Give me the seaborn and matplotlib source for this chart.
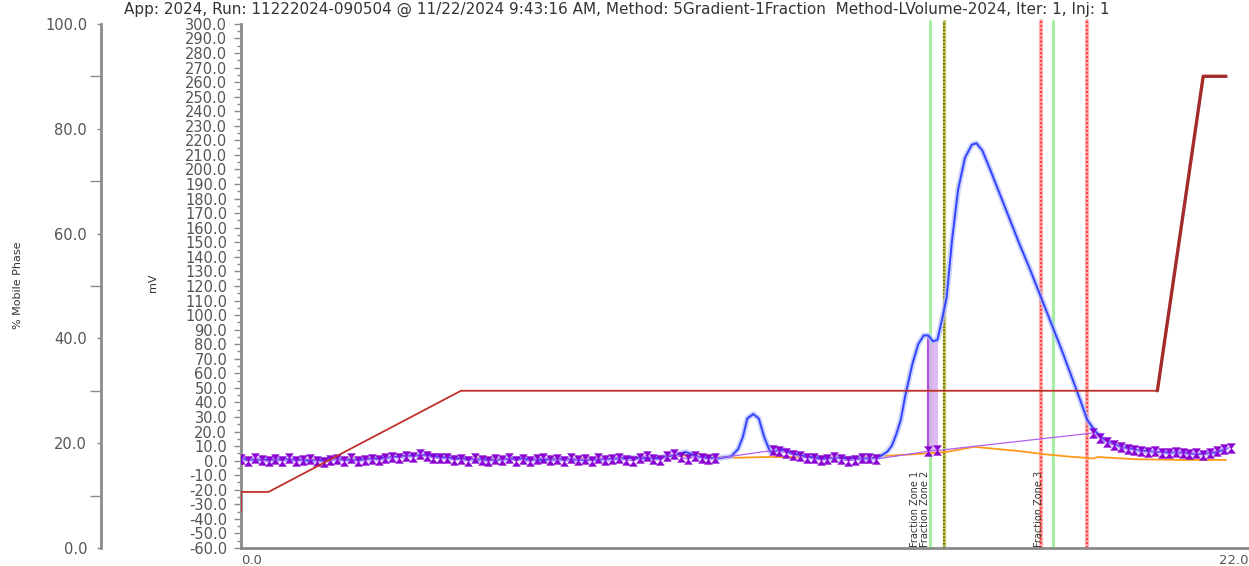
import numpy as np
import matplotlib
matplotlib.use("Agg")
import matplotlib.pyplot as plt
import seaborn as sns
from matplotlib.ticker import MultipleLocator, FormatStrFormatter

# Header line
TITLE = ("App: 2024, Run: 11222024-090504 @ 11/22/2024 9:43:16 AM, Method: 5Gradient-1Fraction  "
         "Method-LVolume-2024, Iter: 1, Inj: 1")

# Detector trace (mV) vs time (min)
blue_t = [0.0, 0.5, 1.0, 1.5, 2.0, 2.5, 3.0, 3.5, 4.0, 4.5, 5.0, 5.5, 6.0, 6.5, 7.0, 7.5,
          8.0, 8.5, 9.0, 9.5, 9.7, 10.0, 10.4, 10.7, 10.85, 10.95, 11.05, 11.18, 11.3, 11.42,
          11.55, 11.7, 11.85, 12.0, 12.3, 12.7, 13.0, 13.4, 13.75, 13.95, 14.1, 14.2, 14.3,
          14.4, 14.5, 14.65, 14.78, 14.9, 15.0, 15.1, 15.2, 15.3, 15.4, 15.52, 15.65, 15.8,
          15.95, 16.05, 16.18, 16.35, 16.55, 16.8, 17.0, 17.2, 17.45, 17.65, 17.9, 18.1, 18.3,
          18.47, 18.65, 18.85, 19.2, 19.6, 20.0, 20.5, 20.9, 21.25, 21.5]
blue_mv = [1, 0.5, 1, 0, 1, 0.5, 1.5, 3, 4, 2, 1, 0.5, 1.5, 0.5, 1, 0.5,
           1, 2, 1.5, 4, 6, 2.5, 1.5, 3, 8, 16, 29, 32, 29, 16,
           6, 7, 7.5, 5.5, 3, 1.5, 2, 1.5, 1.5, 3, 6, 10, 18,
           28, 45, 66, 80, 86, 86, 82, 83, 97, 112, 152, 186, 208,
           217, 218, 213, 200, 184, 164, 148, 133, 113, 97, 77, 60, 43,
           28, 20, 14, 9.5, 7, 6, 5.5, 4.5, 5.5, 8]

# Second detector channel (mV)
orange_t = [0, 1, 2, 3, 3.5, 4, 4.5, 5, 6, 7, 8, 9, 9.5, 10, 10.3, 10.8, 11.5, 12.5, 13.5,
            14.2, 15.0, 15.4, 16.0, 16.5, 17.0, 17.5, 18.0, 18.6, 18.7, 19.5, 20.5, 21.5]
orange_mv = [1.5, 1, 1.5, 2, 3, 3.5, 2.5, 2, 1.5, 1.5, 2, 2.5, 3, 4.5, 3, 2, 2.5, 2.5, 2.5,
             3.5, 5, 6, 9.5, 8, 6.5, 4.5, 3, 1.5, 2.5, 1, 0.5, 0.5]

# Baseline points (purple markers), three runs of evenly spaced samples
base1_range = (0.0, 10.35)
base1_mv = [1.0, 0.0, 1.5, 0.5, -0.5, 1.0, 0.0, 1.5, -0.5, 0.5, 1.0, 0.0, -1.0, 0.5, 1.0, 0.0,
            1.5, -0.5, 0.5, 1.0, 0.5, 1.5, 2.5, 2.0, 3.5, 2.5, 4.5, 3.0, 2.0, 1.5,
            2.0, 0.5, 1.0, 0.0, 1.5, 0.5, -0.5, 1.0, 0.5, 1.5, 0.0, 1.0, -0.5, 1.0, 2.0, 0.5,
            1.0, 0.0, 1.5, 0.5, 1.0, 0.0, 1.5, 0.5, 1.0, 2.0, 0.5, 0.0, 1.5, 3.5, 1.0, 0.5,
            3.0, 4.5, 2.5, 1.0, 3.0, 2.0, 1.0, 1.5]
base2_range = (11.6, 13.85)
base2_mv = [7.0, 6.5, 5.5, 4.0, 3.0, 2.0, 1.5, 0.5, 1.0, 2.5, 1.0, 0.0, 0.5, 1.5, 2.0, 1.0]
base3_range = (18.6, 21.6)
base3_mv = [19.0, 15.5, 13.0, 11.0, 9.5, 8.0, 7.5, 6.5, 6.0, 6.5, 5.5, 5.0, 6.0, 5.0, 4.5,
            5.0, 4.0, 5.5, 6.5, 8.0, 9.0]

# Fraction collection points and shaded slice
frac_t = [15.0, 15.2]
frac_mv = [6.5, 7.0]
fill_t = [15.0, 15.1, 15.2]
fill_lo = [6.5, 6.8, 7.0]
fill_hi = [86, 82, 83]

# Gradient (% mobile phase)
grad_t = [0.0, 0.0, 0.6, 4.8, 20.0]
grad_pct = [7, 10.7, 10.7, 30, 30]
ramp_t = [20.0, 21.0, 21.5]
ramp_pct = [30, 90, 90]

# Fraction zone markers
zone_lines = [15.04, 15.35, 17.47, 17.73, 18.47]
zone_kinds = ["green", "olive", "red", "green", "red"]
zone_labels = ["Fraction Zone 1", "Fraction Zone 2", "Fraction Zone 3"]
zone_label_t = [14.72, 14.92, 17.42]

GREY = "#8a8a8a"
TXT = "#555555"
PURPLE = "#8a00d4"

sns.set_style("white")
fig = plt.figure(figsize=(12.49, 5.66), dpi=100)
ax = fig.add_axes([0.193, 0.0318, 0.807, 0.926])
ax.set_xlim(0, 22)
ax.set_ylim(-60, 300)

# fraction zone lines
for t, kind in zip(zone_lines, zone_kinds):
    if kind == "green":
        ax.axvline(t, ymax=1.005, color="#a6f0a6", lw=2.2, clip_on=False, zorder=1)
    elif kind == "olive":
        ax.axvline(t, ymax=1.005, color="#c8c860", lw=2.4, clip_on=False, zorder=1)
        ax.axvline(t, ymax=1.005, color="#5f5f00", lw=1.2, ls=(0, (1, 1)), clip_on=False, zorder=1)
    else:
        ax.axvline(t, ymax=1.005, color="#ffb0b0", lw=3.0, clip_on=False, zorder=1)
        ax.axvline(t, ymax=1.005, color="#ff3b3b", lw=1.4, ls=(0, (1, 1)), clip_on=False, zorder=1)

for lbl, t in zip(zone_labels, zone_label_t):
    ax.text(t, -59, lbl, rotation=90, ha="center", va="bottom", fontsize=7,
            color="#333333", family=["Liberation Sans Narrow", "DejaVu Sans"], zorder=2)

# shaded fraction slice
ax.fill_between(fill_t, fill_lo, fill_hi, color="#d9a6f0", alpha=0.8, lw=0, zorder=2)
ax.vlines(fill_t[0], fill_lo[0], fill_hi[0], color="#b050e0", lw=1.5, zorder=2)

# orange channel
sns.lineplot(x=orange_t, y=orange_mv, ax=ax, color="#ff9a1a", lw=1.3,
             estimator=None, sort=False, zorder=3)

# blue detector trace with halo
sns.lineplot(x=blue_t, y=blue_mv, ax=ax, color="#b4bcff", lw=4.0, alpha=0.7,
             estimator=None, sort=False, zorder=3)
sns.lineplot(x=blue_t, y=blue_mv, ax=ax, color="#3344ff", lw=1.4,
             estimator=None, sort=False, zorder=4)

# baseline points
b1_t = np.linspace(*base1_range, len(base1_mv))
b2_t = np.linspace(*base2_range, len(base2_mv))
b3_t = np.linspace(*base3_range, len(base3_mv))
base_t = np.concatenate([b1_t, b2_t, frac_t, b3_t])
base_mv = np.concatenate([base1_mv, base2_mv, frac_mv, base3_mv])
sns.lineplot(x=base_t, y=base_mv, ax=ax, color="#b060f0", lw=0.9,
             estimator=None, sort=False, zorder=5)
hourglass = [(-0.8, 1), (0.8, 1), (-0.8, -1), (0.8, -1), (-0.8, 1)]
sns.scatterplot(x=base_t, y=base_mv, ax=ax, color=PURPLE, marker=hourglass, s=50,
                edgecolor=PURPLE, linewidth=0.3, zorder=6)

# mV axis styling
ax.yaxis.set_major_locator(MultipleLocator(10))
ax.yaxis.set_minor_locator(MultipleLocator(5))
ax.yaxis.set_major_formatter(FormatStrFormatter("%.1f"))
ax.tick_params(axis="y", which="major", direction="out", length=5, width=1, color=GREY,
               labelsize=10.5, labelcolor=TXT, pad=5)
ax.tick_params(axis="y", which="minor", direction="out", length=3, width=1, color=GREY)
ax.set_xticks([0, 11, 22], ["0.0", "", "22.0"])
for lbl, ha in zip(ax.get_xticklabels(), ["left", "center", "right"]):
    lbl.set_ha(ha)
ax.tick_params(axis="x", direction="out", length=3, width=2, color=GREY,
               labelsize=9.5, labelcolor=TXT, pad=1)
for side in ["top", "right"]:
    ax.spines[side].set_visible(False)
for side in ["left", "bottom"]:
    ax.spines[side].set_color(GREY)
    ax.spines[side].set_linewidth(2)
ax.set_xlabel("")
ax.set_ylabel("")

# % mobile phase axis
ax2 = ax.twinx()
ax2.set_ylim(0, 100)
sns.lineplot(x=grad_t, y=grad_pct, ax=ax2, color="#c0302a", lw=1.3,
             estimator=None, sort=False)
sns.lineplot(x=ramp_t, y=ramp_pct, ax=ax2, color="#a52a2a", lw=2.4,
             estimator=None, sort=False)
ax2.spines["left"].set_visible(True)
ax2.spines["left"].set_position(("axes", -0.139))
ax2.spines["left"].set_color(GREY)
ax2.spines["left"].set_linewidth(2)
for side in ["top", "right", "bottom"]:
    ax2.spines[side].set_visible(False)
ax2.yaxis.set_ticks_position("left")
ax2.yaxis.set_label_position("left")
ax2.yaxis.set_major_locator(MultipleLocator(20))
ax2.yaxis.set_minor_locator(MultipleLocator(10))
ax2.yaxis.set_major_formatter(FormatStrFormatter("%.1f"))
ax2.tick_params(axis="y", which="major", direction="out", length=3, width=1, color=GREY,
                labelsize=10.5, labelcolor=TXT, pad=7)
ax2.tick_params(axis="y", which="minor", direction="out", length=8, width=1, color=GREY)
ax2.set_ylabel("")
ax.set_xlim(0, 22)

fig.text(0.494, 0.983, TITLE, ha="center", va="center", fontsize=11, color="#333333")
fig.text(18 / 1249, 1 - 285 / 566, "% Mobile Phase", rotation=90, ha="center", va="center",
         fontsize=8, color="#333333", family=["Liberation Sans Narrow", "DejaVu Sans"])
fig.text(153 / 1249, 1 - 283 / 566, "mV", rotation=90, ha="center", va="center",
         fontsize=8, color="#333333", family=["Liberation Sans Narrow", "DejaVu Sans"])

fig.savefig("out.png", dpi=100)
